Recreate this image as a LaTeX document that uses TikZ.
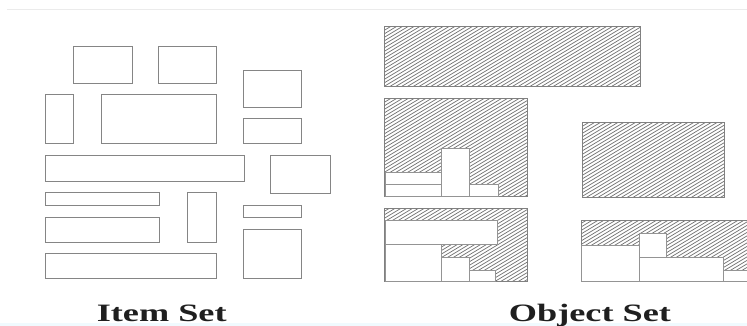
\documentclass[tikz,border=0pt]{standalone}
\usepackage{fontspec}
\setmainfont{Liberation Serif}
\newcommand\hatchbox[4]{%
  \pgfmathsetmacro\hbW{#3-#1}%
  \pgfmathsetmacro\hbN{(#4-#2)+0.6*\hbW+4}%
  \begin{scope}
    \clip (#1,#2) rectangle (#3,#4);
    \foreach \c in {0,3.5,...,\hbN} {\draw[hatchline] (#1,#2+\c) -- ++(\hbW,-0.6*\hbW);}
  \end{scope}
  \draw[hatchborder] (#1,#2) rectangle (#3,#4);}
\begin{document}
\begin{tikzpicture}[x=1pt,y=-1pt,
  item/.style={draw=black!48, line width=1pt},
  hatchline/.style={draw=black!55, line width=0.75pt},
  hatchborder/.style={draw=black!50, line width=1pt},
  piece/.style={draw=black!42, line width=0.9pt, fill=white},
  lbl/.style={font=\fontsize{25}{25}\selectfont\bfseries, xscale=1.45, anchor=base, inner sep=0pt, text=black!88}]
\useasboundingbox (0,0) rectangle (747,326);
\fill[white] (0,0) rectangle (747,326);
\draw[black!8, line width=0.8pt] (7,9) -- (747,9);
\fill[cyan!6] (0,323) rectangle (747,326);
% Item set
\draw[item] (73,47) rectangle (132,84);
\draw[item] (158,47) rectangle (216,84);
\draw[item] (243,71) rectangle (301,108);
\draw[item] (45,95) rectangle (73,144);
\draw[item] (101,95) rectangle (216,144);
\draw[item] (243,119) rectangle (301,144);
\draw[item] (45,156) rectangle (244,181);
\draw[item] (270,156) rectangle (330,193);
\draw[item] (45,192) rectangle (159,205);
\draw[item] (187,192) rectangle (216,242);
\draw[item] (243,205) rectangle (301,217);
\draw[item] (45,217) rectangle (159,242);
\draw[item] (243,229) rectangle (301,278);
\draw[item] (45,253) rectangle (216,278);
% Object set
\hatchbox{384}{27}{640}{87}
\hatchbox{384}{99}{527}{196}
\draw[piece] (385,172) rectangle (441,184);
\draw[piece] (385,184) rectangle (441,196);
\draw[piece] (441,148) rectangle (469,196);
\draw[piece] (469,184) rectangle (498,196);
\hatchbox{582}{123}{724}{197}
\hatchbox{384}{208}{527}{281}
\draw[piece] (385,220) rectangle (497,244);
\draw[piece] (385,244) rectangle (441,281);
\draw[piece] (441,257) rectangle (469,281);
\draw[piece] (469,270) rectangle (495,281);
\hatchbox{581}{220}{752}{281}
\draw[piece] (581,245) rectangle (639,281);
\draw[piece] (639,233) rectangle (666,257);
\draw[piece] (639,257) rectangle (723,281);
\draw[piece] (723,270) rectangle (752,281);
% labels
\node[lbl] (itemset) at (161.7,321.5) {Item Set};
\node[lbl] (objectset) at (590,321.5) {Object Set};
\end{tikzpicture}
\end{document}
